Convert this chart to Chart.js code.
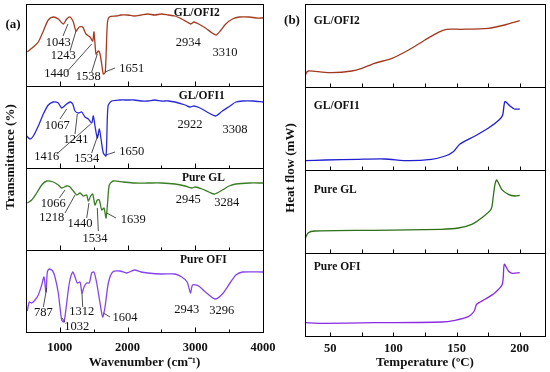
<!DOCTYPE html>
<html>
<head>
<meta charset="utf-8">
<script src="https://cdn.jsdelivr.net/npm/chart.js@4.4.1/dist/chart.umd.min.js"></script>
<style>
  html, body { margin: 0; padding: 0; background: #fff; }
  #wrap { position: relative; width: 550px; height: 372px; }
  #wrap canvas { position: absolute; left: 0; top: 0; }
</style>
</head>
<body>
<div id="wrap">
  <canvas id="ftirChart" width="550" height="372"></canvas>
  <canvas id="dscChart" width="550" height="372"></canvas>
</div>
<script>
// FTIR spectra (wavenumber, transmittance in arbitrary units per panel)
const ofi2Wn = [520,608,682,756,829,903,977,1051,1101,1150,1199,1238,1287,1337,1386,1445,1485,1504,1534,1568,1593,1618,1642,1671,1701,1730,1840,1900,2000,2100,2200,2300,2400,2500,2600,2700,2800,2880,2934,2980,3050,3150,3250,3310,3380,3450,3550,3650,3800,3900,4000];
const ofi2T  = [34,39,44,55,66,69,67,62,67,69,64,55,59,59,52,49,45,54,32,35,32,22,12,14,62,69,70,71,71,70,71,72,71,72,71,70,67,64,62,64,62,58,53,51,56,62,67,69,69,68,68];

const ofi1Wn = [510,559,608,682,756,829,903,977,1027,1101,1150,1190,1224,1273,1323,1371,1420,1470,1494,1519,1553,1583,1608,1642,1682,1711,1766,1888,2000,2100,2200,2300,2400,2500,2600,2700,2850,2922,2980,3070,3200,3300,3400,3513,3600,3700,3850,4000];
const ofi1T  = [32,29,32,42,54,63,66,65,60,64,66,64,57,55,56,51,49,45,52,42,30,39,29,15,12,62,67,68,68,68,67,67,68,67,67,66,63,61,62,60,55,52,57,62,66,67,67,66];

const glWn = [519,584,658,732,806,903,977,1027,1101,1150,1199,1249,1298,1346,1396,1420,1455,1485,1519,1553,1583,1618,1652,1682,1707,1730,1789,1937,2100,2300,2500,2700,2850,2945,3000,3100,3200,3284,3400,3500,3600,3800,4000];
const glT  = [47,50,57,65,69,68,65,62,64,63,59,55,57,54,55,49,54,56,45,50,50,40,42,32,49,65,69,68,67,67,67,66,64,62,63,61,58,56,60,64,66,67,67];

const ofiWn = [519,549,584,633,682,732,766,795,815,844,894,928,977,1027,1061,1101,1140,1190,1224,1258,1298,1327,1357,1396,1435,1470,1504,1544,1593,1632,1667,1716,1780,1888,1987,2100,2200,2300,2500,2700,2800,2880,2929,2960,3050,3150,3292,3400,3513,3600,3700,4000];
const ofiT  = [21,30,29,32,37,47,55,40,60,63,61,55,39,12,10,29,49,60,55,49,50,39,45,49,49,59,60,49,29,15,25,49,60,61,59,62,60,59,58,58,55,50,39,47,46,40,33,38,49,57,60,60];

// DSC curves (temperature in C, heat flow in arbitrary units per panel)
const dOfi2Temp = [30,30.6,32.6,40.5,51,67,75,85,99,112,125,135.5,142,154,175,188,200];
const dOfi2Flow = [7,13,16,15.3,14.3,16,18.7,23.7,28.7,37,47,54.7,57.7,57.7,58.7,62,66.3];

const dOfi1Temp = [30,46,72,93,112,130,141,147.4,152.7,164.6,175,183.6,186.5,188.3,192.3,195.7,200];
const dOfi1Flow = [9.3,10,10.7,11,9.3,10.7,14,18.3,26,34,41.7,50,55,68.3,64,61,61];

const dGlTemp = [30,32.6,37.9,85,138,151.4,162,170,177.3,179.1,180.4,181.8,185.7,191,196.3,200];
const dGlFlow = [14.3,20.3,22,22.7,23.7,25,28.7,35.3,43.7,57,68.7,73,63.7,58.7,57,57.7];

const dOfiTemp = [30,43,85,138,148.8,159.3,164,165.9,172.5,180.4,186.2,187.8,191,194.2,200];
const dOfiFlow = [13.3,12.7,13.3,14,15.7,19.3,25,31.7,36.7,43.3,51.7,71.7,65,62.7,63.3];

// axis tick labels
const ftirTickLabels = [1000, 2000, 3000, 4000];
const dscTickLabels = [50, 100, 150, 200];

const panelNames = ['GL/OFI2', 'GL/OFI1', 'Pure GL', 'Pure OFI'];
const ftirColors = ['#a33c22', '#2a2ad6', '#3a7d24', '#8446ea'];
const dscColors  = ['#a0381f', '#1f1fd0', '#2d7016', '#8a2be2'];

// peak labels: text, label centre, leader line (all in data units of each panel)
const ofi2Peaks = [
  {t:'1043', x:977,  y:43, l:[1046,50,1120,62]},
  {t:'1243', x:1051, y:30, l:[1150,35,1238,55]},
  {t:'1440', x:953,  y:12, l:[1101,14,1470,42]},
  {t:'1538', x:1420, y:9,  l:[1470,14,1553,32]},
  {t:'1651', x:2061, y:17, l:[1815,18,1667,14]},
  {t:'2934', x:2897, y:43},
  {t:'3310', x:3439, y:33}
];
const ofi1Peaks = [
  {t:'1067', x:962,  y:42, l:[1002,49,1101,59]},
  {t:'1241', x:1238, y:28, l:[1224,34,1258,54]},
  {t:'1416', x:806,  y:11, l:[953,14,1456,44]},
  {t:'1534', x:1396, y:9,  l:[1470,15,1568,34]},
  {t:'1650', x:2061, y:16, l:[1815,16,1682,13]},
  {t:'2922', x:2922, y:43},
  {t:'3308', x:3587, y:38}
];
const glPeaks = [
  {t:'1066', x:903,  y:46, l:[992,52,1076,60]},
  {t:'1218', x:880,  y:32, l:[1076,37,1224,55]},
  {t:'1440', x:1298, y:26, l:[1396,32,1430,47]},
  {t:'1534', x:1519, y:11, l:[1568,19,1553,42]},
  {t:'1639', x:2085, y:30, l:[1829,32,1692,37]},
  {t:'2945', x:2897, y:50},
  {t:'3284', x:3464, y:47}
];
const ofiPeaks = [
  {t:'787',  x:756,  y:19, l:[756,25,806,44]},
  {t:'1032', x:1249, y:5,  l:[1076,10,1032,14]},
  {t:'1312', x:1323, y:20, l:[1337,25,1327,39]},
  {t:'1604', x:1962, y:14, l:[1741,15,1642,19]},
  {t:'2943', x:2873, y:22},
  {t:'3296', x:3390, y:21}
];

const SERIF = "'Liberation Serif', 'Times New Roman', serif";

function pairs(xs, ys) {
  return xs.map((x, i) => ({x: x, y: ys[i]}));
}

// frame, panel separators, inward ticks, panel names and peak labels
const panelFrame = {
  id: 'panelFrame',
  afterDraw(chart, args, opts) {
    const ctx = chart.ctx;
    const area = chart.chartArea;
    const xs = chart.scales.x;
    ctx.save();
    ctx.strokeStyle = '#000';
    ctx.lineWidth = 1;
    ctx.strokeRect(Math.round(area.left) + 0.5, Math.round(area.top) + 0.5,
      Math.round(area.right - area.left), Math.round(area.bottom - area.top));

    opts.panels.forEach(p => {
      const ys = chart.scales[p.axis];
      const yb = Math.round(ys.bottom) + 0.5;
      ctx.strokeStyle = '#000';
      ctx.lineWidth = 1;
      ctx.beginPath();
      ctx.moveTo(area.left, yb);
      ctx.lineTo(area.right, yb);
      opts.major.forEach(v => {
        const px = Math.round(xs.getPixelForValue(v)) + 0.5;
        ctx.moveTo(px, yb);
        ctx.lineTo(px, yb - opts.majorLen);
      });
      opts.minor.forEach(v => {
        const px = Math.round(xs.getPixelForValue(v)) + 0.5;
        ctx.moveTo(px, yb);
        ctx.lineTo(px, yb - opts.minorLen);
      });
      ctx.stroke();

      // panel name
      ctx.fillStyle = '#111';
      ctx.font = 'bold 11.5px ' + SERIF;
      ctx.textBaseline = 'middle';
      ctx.textAlign = opts.nameAlign;
      ctx.fillText(p.name, xs.getPixelForValue(p.nameX), ys.getPixelForValue(p.nameY));

      // peak labels
      ctx.font = '12.5px ' + SERIF;
      ctx.textAlign = 'center';
      (p.peaks || []).forEach(pk => {
        ctx.fillText(pk.t, xs.getPixelForValue(pk.x), ys.getPixelForValue(pk.y));
        if (pk.l) {
          ctx.lineWidth = 0.8;
          ctx.strokeStyle = '#222';
          ctx.beginPath();
          ctx.moveTo(xs.getPixelForValue(pk.l[0]), ys.getPixelForValue(pk.l[1]));
          ctx.lineTo(xs.getPixelForValue(pk.l[2]), ys.getPixelForValue(pk.l[3]));
          ctx.stroke();
        }
      });
    });

    // vertical axis title and panel letter
    ctx.fillStyle = '#111';
    ctx.font = 'bold 13px ' + SERIF;
    ctx.textAlign = 'center';
    ctx.textBaseline = 'middle';
    ctx.fillText(opts.letter, opts.letterX, opts.letterY);
    ctx.translate(opts.yTitleX, opts.yTitleY);
    ctx.rotate(-Math.PI / 2);
    ctx.fillText(opts.yTitle, 0, 0);
    ctx.restore();
  }
};

function stackedScales(prefix, max) {
  // defined bottom-to-top: left stacks are laid out in reverse order
  const s = {};
  [3, 2, 1, 0].forEach(i => {
    s[prefix + i] = {
      type: 'linear', position: 'left', stack: prefix, stackWeight: 1,
      min: 0, max: max, display: false
    };
  });
  return s;
}

function xAxis(min, max, labels, title, height, pad) {
  return {
    type: 'linear', position: 'bottom', min: min, max: max,
    grid: {display: false, drawTicks: false},
    border: {display: false},
    afterBuildTicks: scale => { scale.ticks = labels.map(v => ({value: v})); },
    ticks: {
      autoSkip: false, maxRotation: 0, padding: pad,
      color: '#111',
      font: {family: SERIF, size: 12.5, weight: 'bold'},
      callback: v => String(v)
    },
    title: {
      display: true, text: title, color: '#111',
      padding: {top: 0, bottom: 0},
      font: {family: SERIF, size: 13, weight: 'bold'}
    },
    afterFit: scale => { scale.height = height; }
  };
}

function lineSet(xs, ys, color, axis) {
  return {
    data: pairs(xs, ys), yAxisID: axis,
    borderColor: color, borderWidth: 1.3, pointRadius: 0,
    tension: 0.25, fill: false
  };
}

new Chart(document.getElementById('ftirChart'), {
  type: 'line',
  data: {
    datasets: [
      lineSet(ofi2Wn, ofi2T, ftirColors[0], 'f0'),
      lineSet(ofi1Wn, ofi1T, ftirColors[1], 'f1'),
      lineSet(glWn, glT, ftirColors[2], 'f2'),
      lineSet(ofiWn, ofiT, ftirColors[3], 'f3')
    ]
  },
  options: {
    responsive: false, animation: false,
    layout: {padding: {left: 26, right: 287, top: 4, bottom: 2}},
    scales: Object.assign({x: xAxis(500, 4000, ftirTickLabels, 'Wavenumber (cm\u207B\u00B9)', 38, 8)}, stackedScales('f', 82)),
    plugins: {
      legend: {display: false}, tooltip: {enabled: false},
      panelFrame: {
        major: [1000, 2000, 3000], minor: [1500, 2500, 3500], majorLen: 5, minorLen: 3,
        nameAlign: 'center',
        letter: '(a)', letterX: 13, letterY: 25,
        yTitle: 'Transmittance (%)', yTitleX: 11, yTitleY: 157,
        panels: [
          {axis: 'f0', name: panelNames[0], nameX: 3021, nameY: 73, peaks: ofi2Peaks},
          {axis: 'f1', name: panelNames[1], nameX: 3095, nameY: 72, peaks: ofi1Peaks},
          {axis: 'f2', name: panelNames[2], nameX: 3119, nameY: 72, peaks: glPeaks},
          {axis: 'f3', name: panelNames[3], nameX: 3119, nameY: 72, peaks: ofiPeaks}
        ]
      }
    }
  },
  plugins: [panelFrame]
});

new Chart(document.getElementById('dscChart'), {
  type: 'line',
  data: {
    datasets: [
      lineSet(dOfi2Temp, dOfi2Flow, dscColors[0], 'd0'),
      lineSet(dOfi1Temp, dOfi1Flow, dscColors[1], 'd1'),
      lineSet(dGlTemp, dGlFlow, dscColors[2], 'd2'),
      lineSet(dOfiTemp, dOfiFlow, dscColors[3], 'd3')
    ]
  },
  options: {
    responsive: false, animation: false,
    layout: {padding: {left: 305, right: 5, top: 4, bottom: 2}},
    scales: Object.assign({x: xAxis(30, 220, dscTickLabels, 'Temperature (\u00BAC)', 34, 5)}, stackedScales('d', 83)),
    plugins: {
      legend: {display: false}, tooltip: {enabled: false},
      panelFrame: {
        major: [50, 100, 150, 200], minor: [75, 125, 175], majorLen: 4, minorLen: 4,
        nameAlign: 'left',
        letter: '(b)', letterX: 292, letterY: 21,
        yTitle: 'Heat flow (mW)', yTitleX: 291, yTitleY: 168,
        panels: [
          {axis: 'd0', name: panelNames[0], nameX: 37, nameY: 66},
          {axis: 'd1', name: panelNames[1], nameX: 37, nameY: 64},
          {axis: 'd2', name: panelNames[2], nameX: 37, nameY: 63},
          {axis: 'd3', name: panelNames[3], nameX: 37, nameY: 69}
        ]
      }
    }
  },
  plugins: [panelFrame]
});
</script>
</body>
</html>
